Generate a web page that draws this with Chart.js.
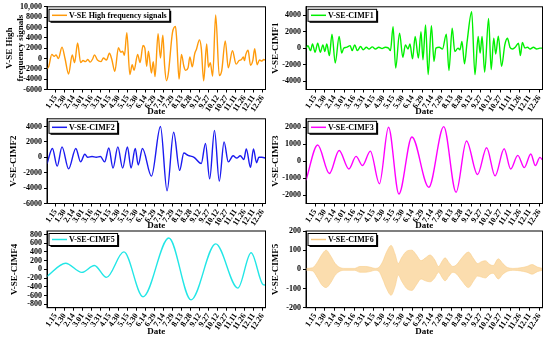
<!DOCTYPE html>
<html>
<head>
<meta charset="utf-8">
<script src="https://cdn.jsdelivr.net/npm/chart.js@4.4.1/dist/chart.umd.min.js"></script>
<style>
  html, body { margin: 0; padding: 0; background: #fff; }
  body { width: 550px; height: 341px; position: relative; overflow: hidden; }
  canvas { position: absolute; }
</style>
</head>
<body>
<script>
// x axis: day of year (0 = 1.1), tick every 15 days from 1.15
var tickLabels = ['1.15', '1.30', '2.14', '3.01', '3.16', '3.31', '4.15', '4.30', '5.15', '5.30', '6.14', '6.29',
  '7.14', '7.29', '8.13', '8.28', '9.12', '9.27', '10.12', '10.27', '11.11', '11.26', '12.11', '12.26'];
var tickDays = tickLabels.map(function (_, i) { return 14 + 15 * i; });

// V-SE high frequency signals
var hfDays = [0, 3, 8, 12, 15, 19, 25, 30, 36, 42, 46, 51, 56, 60, 64, 68, 72, 76, 79, 84, 90, 94, 99, 104, 108, 113, 119, 123, 126, 129,
  133, 138, 142, 145, 151, 155, 160, 163, 166, 169, 174, 177, 180, 185, 189, 193, 196, 199, 202, 209, 214, 216, 220, 224, 228, 231, 235, 238, 242, 246,
  249, 254, 257, 261, 266, 269, 272, 276, 281, 287, 291, 297, 302, 309, 315, 320, 324, 327, 329, 331, 335, 339, 343, 346, 350, 354, 358, 361, 364];
var hfValues = [-2000, -1500, 800, 400, 700, 0, 2200, 0, -3000, 700, -800, 3000, -800, -400, -600, -200, -700, -100, 700, -300, -600, 100, -300, 1000, -200, -2500, 2100, 1200, 1400, 600,
  5000, -3100, -1200, -2300, 800, -800, 2500, 2000, -1500, 1400, -2800, -600, -3500, 4800, 100, 4500, -1500, -4300, -3000, 5000, 6200, 3800, -4000, 800, -1500, -2300, -1800, 300, -1600, 900,
  1800, 3600, 2000, -4300, 2800, -1700, -800, -3400, 8400, -3300, -2400, 3400, -1800, 1500, -1100, -400, -200, 300, -400, 700, 1600, -1300, -300, 1900, -1200, -300, -500, -200, -300];

// CIMF1
var cimf1Days = [0, 3, 7, 10, 14, 18, 22, 26, 29, 32, 36, 40, 45, 51, 55, 58, 62, 68, 71, 75, 79, 84, 88, 93, 97, 102, 107, 112, 117, 122,
  127, 130, 134, 138, 144, 149, 153, 157, 160, 164, 168, 173, 177, 180, 184, 188, 193, 197, 200, 205, 210, 216, 220, 225, 229, 234, 237, 240, 244, 248,
  255, 260, 265, 268, 271, 275, 281, 285, 289, 292, 296, 301, 306, 310, 314, 318, 322, 327, 330, 333, 337, 341, 345, 350, 355, 360, 364];
var cimf1Values = [0, 300, -300, 500, -500, 600, -500, 400, -400, 500, -900, 1700, -1800, 1400, -600, 0, 100, 300, -300, 400, -300, 200, -200, 100, -100, 150, -100, 100, -50, 100,
  0, -300, 2600, -2400, 1800, -1100, 400, -100, 500, -1300, 1400, -1200, 2000, -1400, 2800, -3200, 2700, -1600, 0, 100, -100, 1700, -2700, 2400, -400, 0, -200, 800, -1900, 800,
  4400, -3200, 1400, -600, 1400, -2900, 3600, -2600, 1200, -700, 1450, -2200, 400, 1200, 100, -100, 100, 600, -900, 700, 0, 100, -100, 100, -100, 0, 0];

// CIMF2
var cimf2Days = [0, 9, 17, 25, 36, 48, 56, 63, 68, 75, 82, 89, 96, 103, 110, 118, 126, 134, 140, 147,
  152, 159, 174, 189, 200, 211, 221, 228, 235, 245, 257, 264, 271, 279, 287, 295, 302, 310, 316, 322,
  328, 332, 339, 344, 349, 353, 358, 364];
var cimf2Values = [-830, 1150, -1150, 1350, -1500, 1150, -600, 400, 0, 100, 0, 100, -600, 1200, -1400, 1350, -1400, 1350, -1400, 1150,
  -1000, 1150, -2450, 4000, -4350, 3250, -1700, 550, 250, 0, -800, 1800, -2800, 3500, -3100, 2000, -600, 200, -100, 200,
  -300, 1100, -1300, 1100, -700, 0, 0, -100];

// CIMF3
var cimf3Days = [0, 18, 36, 51, 66, 77, 87, 99, 113, 127, 143, 163, 189, 212, 231, 247, 264, 278, 291, 305, 315, 326, 336, 346, 353, 360, 364];
var cimf3Values = [-1130, 950, -730, 630, -460, 280, -260, 590, -1330, 2000, -1940, 1430, -1540, 2040, -1840, 1190, -790, 790, -870, 730, -460, 340, -380, 420, -260, 220, 80];

// CIMF5
var cimf5Days = [0, 31, 58, 79, 99, 128, 160, 203, 240, 281, 318, 340, 360, 364];
var cimf5Values = [-160, 140, -70, 90, -185, 400, -630, 720, -700, 585, -430, 380, -350, -360];

// CIMF6 (fast oscillation, read as its upper / lower envelope)
var cimf6Days = [0, 10, 18, 24, 31, 38, 45, 52, 60, 75, 83, 92, 100, 106, 112, 118, 124, 131, 137, 142,
  147, 155, 163, 170, 177, 184, 191, 198, 204, 210, 214, 220, 226, 232, 240, 250, 258, 264, 270, 276,
  283, 288, 296, 303, 310, 320, 330, 340, 348, 356, 364];
var cimf6Upper = [5, 8, 40, 75, 100, 70, 30, 10, 5, 5, 15, 15, 10, 5, 10, 40, 90, 125, 80, 30,
  60, 95, 100, 75, 45, 60, 75, 50, 15, 45, 60, 35, 15, 25, 60, 90, 55, 30, 40, 45,
  25, 20, 55, 30, 10, 5, 8, 15, 25, 12, 5];
var cimf6Lower = [-5, -8, -45, -80, -95, -70, -30, -10, -5, -5, -15, -15, -10, -5, -10, -50, -100, -135, -90, -30,
  -60, -100, -110, -80, -50, -60, -65, -45, -15, -45, -60, -35, -15, -25, -60, -95, -60, -35, -40, -45,
  -25, -20, -50, -25, -10, -5, -8, -15, -25, -12, -5];

var yTicks1 = [-6000, -4000, -2000, 0, 2000, 4000, 6000, 8000, 10000];
var yTicks2 = [-4000, -2000, 0, 2000, 4000];
var yTicks3 = [-6000, -4000, -2000, 0, 2000, 4000];
var yTicks4 = [-2000, -1000, 0, 1000, 2000];
var yTicks5 = [-800, -600, -400, -200, 0, 200, 400, 600, 800];
var yTicks6 = [-200, -100, 0, 100, 200];

Chart.defaults.font.family = '"Liberation Serif", "Times New Roman", serif';
Chart.defaults.font.weight = 'bold';
Chart.defaults.color = '#000';

function pts(days, vals) {
  return days.map(function (d, i) { return { x: d, y: vals[i] }; });
}

var framePlugin = {
  id: 'frame',
  afterDatasetsDraw: function (chart) {
    var a = chart.chartArea, ctx = chart.ctx;
    ctx.save();
    ctx.strokeStyle = '#000';
    ctx.lineWidth = 1;
    ctx.strokeRect(a.left, a.top, a.right - a.left, a.bottom - a.top);
    ctx.restore();
  }
};

var legendPlugin = {
  id: 'boxLegend',
  afterDraw: function (chart) {
    var ds = chart.data.datasets[0], a = chart.chartArea, ctx = chart.ctx;
    ctx.save();
    ctx.font = 'bold 8px "Liberation Serif"';
    var tw = ctx.measureText(ds.label).width;
    var x = a.left + 2, y = a.top + 2.5, w = 20 + tw + 3, h = 12;
    ctx.fillStyle = '#000';
    ctx.fillRect(x + 1.5, y + 1.5, w, h);
    ctx.fillStyle = '#fff';
    ctx.fillRect(x, y, w, h);
    ctx.strokeStyle = '#000';
    ctx.lineWidth = 1;
    ctx.strokeRect(x, y, w, h);
    ctx.strokeStyle = ds.borderColor;
    ctx.lineWidth = 1.5;
    ctx.beginPath();
    ctx.moveTo(x + 3, y + h / 2);
    ctx.lineTo(x + 18, y + h / 2);
    ctx.stroke();
    ctx.fillStyle = '#000';
    ctx.textBaseline = 'middle';
    ctx.fillText(ds.label, x + 20, y + h / 2 + 0.5);
    ctx.restore();
  }
};

function lineSet(label, color, days, vals) {
  return {
    label: label, data: pts(days, vals), borderColor: color, borderWidth: 1.4,
    pointRadius: 0, fill: false, cubicInterpolationMode: 'monotone'
  };
}

function makePanel(p) {
  var cv = document.createElement('canvas');
  cv.width = p.w; cv.height = p.h;
  cv.style.left = p.left + 'px'; cv.style.top = p.top + 'px';
  document.body.appendChild(cv);
  new Chart(cv.getContext('2d'), {
    type: 'line',
    data: { datasets: p.datasets },
    options: {
      responsive: false, animation: false, devicePixelRatio: 1,
      layout: { padding: { top: p.padTop, right: p.padRight, bottom: p.padBottom, left: 0 } },
      plugins: { legend: { display: false }, tooltip: { enabled: false } },
      scales: {
        x: {
          type: 'linear', min: 0, max: 364,
          afterBuildTicks: function (s) { s.ticks = tickDays.map(function (v) { return { value: v }; }); },
          afterFit: function (s) { s.height = p.xHeight; },
          ticks: {
            autoSkip: false, minRotation: 56, maxRotation: 56, padding: 1,
            font: { size: 8, weight: 'bold' },
            callback: function (v) { return tickLabels[tickDays.indexOf(v)]; }
          },
          grid: { drawOnChartArea: false, tickLength: 3, color: '#000' },
          border: { color: '#000', width: 1 },
          title: { display: true, text: 'Date', font: { size: 9, weight: 'bold' }, padding: 0 }
        },
        y: {
          min: p.min, max: p.max,
          afterBuildTicks: function (s) { s.ticks = p.yTicks.map(function (v) { return { value: v }; }); },
          afterFit: function (s) { s.width = p.yWidth; },
          ticks: {
            autoSkip: false, padding: 2, font: { size: 8, weight: 'bold' },
            callback: function (v) { return Math.abs(v) >= 10000 ? v.toLocaleString('en-US') : String(v); }
          },
          grid: { drawOnChartArea: false, tickLength: 3, color: '#000' },
          border: { color: '#000', width: 1 },
          title: { display: true, text: p.yTitle, font: { size: 9, weight: 'bold' }, padding: { top: p.titlePad, bottom: 0 } }
        }
      }
    },
    plugins: [framePlugin, legendPlugin]
  });
}

var leftCol = { left: 0, w: 272, yWidth: 47, padRight: 6.5 };
var rightCol = { left: 268, w: 282, yWidth: 38, padRight: 7.5, titlePad: 2.1 };
var row1 = { top: 0, h: 117, padTop: 6.5, padBottom: 0, xHeight: 27.5 };
var row2 = { top: 112, h: 119, padTop: 6.5, padBottom: 0, xHeight: 27.5 };
var row3 = { top: 224, h: 117, padTop: 7, padBottom: 3.5, xHeight: 29.8 };

function panel(col, row, extra) {
  return Object.assign({}, col, row, extra);
}

makePanel(panel(leftCol, row1, {
  titlePad: 4.6, yTitle: ['V-SE High', 'frequency signals'], min: -6000, max: 10000, yTicks: yTicks1,
  datasets: [lineSet('V-SE High frequency signals', '#FF9A0A', hfDays, hfValues)]
}));
makePanel(panel(rightCol, row1, {
  yTitle: 'V-SE-CIMF1', min: -5000, max: 5000, yTicks: yTicks2,
  datasets: [lineSet('V-SE-CIMF1', '#00F000', cimf1Days, cimf1Values)]
}));
makePanel(panel(leftCol, row2, {
  titlePad: 8.6, yTitle: 'V-SE-CIMF2', min: -6000, max: 5000, yTicks: yTicks3,
  datasets: [lineSet('V-SE-CIMF2', '#1A1AF0', cimf2Days, cimf2Values)]
}));
makePanel(panel(rightCol, row2, {
  yTitle: 'V-SE-CIMF3', min: -2500, max: 2500, yTicks: yTicks4,
  datasets: [lineSet('V-SE-CIMF3', '#FF00FF', cimf3Days, cimf3Values)]
}));
makePanel(panel(leftCol, row3, {
  titlePad: 8.8, yTitle: 'V-SE-CIMF4', min: -880, max: 880, yTicks: yTicks5,
  datasets: [lineSet('V-SE-CIMF5', '#22E6E6', cimf5Days, cimf5Values)]
}));
makePanel(panel(rightCol, row3, {
  yTitle: 'V-SE-CIMF5', min: -200, max: 200, yTicks: yTicks6,
  datasets: [
    { label: 'V-SE-CIMF6', data: pts(cimf6Days, cimf6Upper), borderColor: '#F8CC88', backgroundColor: 'rgba(250,206,140,0.7)',
      borderWidth: 0.6, pointRadius: 0, fill: '+1', cubicInterpolationMode: 'monotone' },
    { label: 'lower', data: pts(cimf6Days, cimf6Lower), borderColor: '#F8CC88',
      borderWidth: 0.6, pointRadius: 0, fill: false, cubicInterpolationMode: 'monotone' }
  ]
}));
</script>
</body>
</html>
